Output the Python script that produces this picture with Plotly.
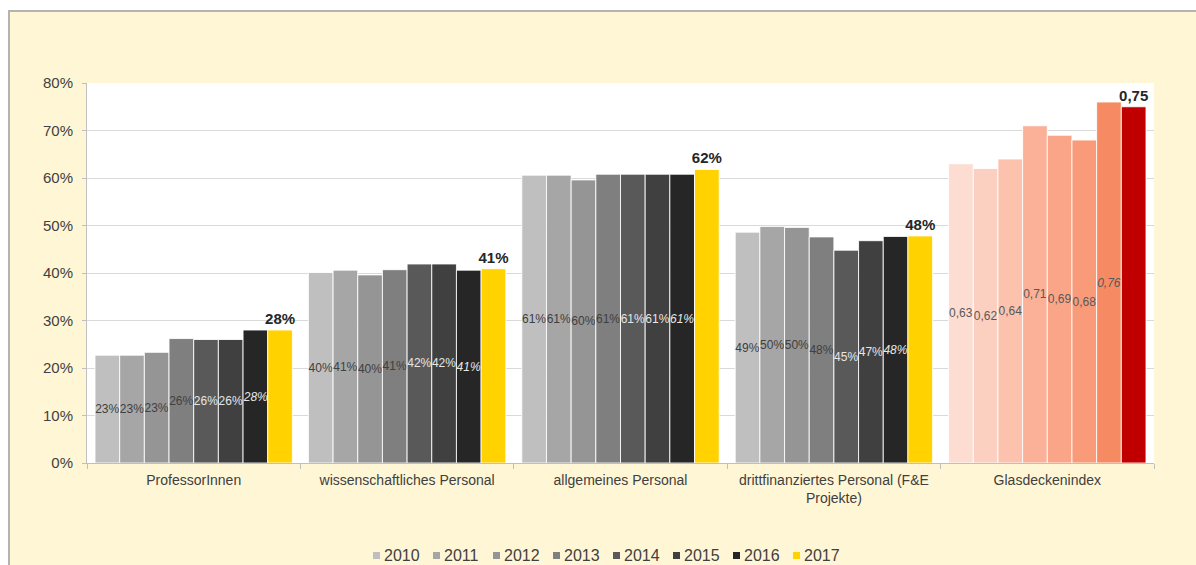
import plotly.graph_objects as go

# Kategorien der x-Achse
categories = [
    "ProfessorInnen",
    "wissenschaftliches Personal",
    "allgemeines Personal",
    "drittfinanziertes Personal (F&E<br>Projekte)",
    "Glasdeckenindex",
]
years = ["2010", "2011", "2012", "2013", "2014", "2015", "2016", "2017"]

# Frauenanteile je Jahr (Reihenfolge wie categories; letzter Wert = Glasdeckenindex)
v2010 = [0.227, 0.401, 0.606, 0.486, 0.63]
v2011 = [0.227, 0.406, 0.606, 0.498, 0.62]
v2012 = [0.233, 0.396, 0.596, 0.496, 0.64]
v2013 = [0.262, 0.407, 0.608, 0.476, 0.71]
v2014 = [0.260, 0.419, 0.608, 0.448, 0.69]
v2015 = [0.260, 0.419, 0.608, 0.468, 0.68]
v2016 = [0.280, 0.406, 0.608, 0.477, 0.76]
v2017 = [0.280, 0.409, 0.618, 0.478, 0.75]
series = [v2010, v2011, v2012, v2013, v2014, v2015, v2016, v2017]

# Farben: Grau-/Gelbtöne für Personalgruppen, Rottöne für den Index
grey_colors = ["#BFBFBF", "#A6A6A6", "#959595", "#7F7F7F",
               "#595959", "#404040", "#262626", "#FFD200"]
glass_colors = ["#FDDDD1", "#FCD0C1", "#FCC2AD", "#FBB198",
                "#FAA588", "#F99B79", "#F68B63", "#C00000"]
label_colors = ["#404040", "#404040", "#404040", "#404040",
                "#E6E6E6", "#E6E6E6", "#E6E6E6", "#262626"]

FONT = "Liberation Sans, Arial, sans-serif"

fig = go.Figure()
n_cat = len(categories)
for i, (year, vals) in enumerate(zip(years, series)):
    colors = [grey_colors[i]] * (n_cat - 1) + [glass_colors[i]]
    if i < len(years) - 1:
        fmt_pct, fmt_idx = "%{y:.0%}", "%{y:.2f}"
        if i == len(years) - 2:
            fmt_pct, fmt_idx = "<i>%{y:.0%}</i>", "<i>%{y:.2f}</i>"
        templates = [fmt_pct] * (n_cat - 1) + [fmt_idx]
        tcolors = [label_colors[i]] * (n_cat - 1) + ["#595959"]
        fig.add_trace(go.Bar(
            name=year, x=categories, y=vals,
            marker=dict(color=colors, line=dict(color="rgba(255,255,255,0.85)", width=1)),
            texttemplate=templates,
            textposition="inside", insidetextanchor="middle",
            textangle=0, constraintext="none",
            textfont=dict(family=FONT, size=12, color=tcolors),
            hoverinfo="skip",
        ))
    else:
        templates = ["<b>%{y:.0%}</b>"] * (n_cat - 1) + ["<b>%{y:.2f}</b>"]
        fig.add_trace(go.Bar(
            name=year, x=categories, y=vals,
            marker=dict(color=colors, line=dict(color="rgba(255,255,255,0.85)", width=1)),
            texttemplate=templates,
            textposition="outside", textangle=0, constraintext="none",
            cliponaxis=False,
            textfont=dict(family=FONT, size=15, color="#262626"),
            hoverinfo="skip",
        ))

# Seitenränder in Pixeln
L, R, T, B = 87, 42, 83, 102
W, H = 1196, 565
pw, ph = W - L - R, H - T - B


def px_x(p):
    return (p - L) / pw


def px_y(p):
    return (H - B - p) / ph


# Rahmen und weißer Rand außerhalb der Diagrammfläche
shapes = [
    dict(type="rect", xref="paper", yref="paper", layer="above",
         x0=px_x(-5), x1=px_x(W + 5), y0=px_y(11), y1=px_y(-5),
         fillcolor="white", line=dict(width=0)),
    dict(type="rect", xref="paper", yref="paper", layer="above",
         x0=px_x(-5), x1=px_x(9), y0=px_y(H + 5), y1=px_y(-5),
         fillcolor="white", line=dict(width=0)),
    dict(type="rect", xref="paper", yref="paper", layer="above",
         x0=px_x(9), x1=px_x(W + 10), y0=px_y(H + 10), y1=px_y(11),
         fillcolor="rgba(0,0,0,0)", line=dict(color="#B3B3B3", width=2)),
]

# Legende: kleine Farbquadrate mit Jahreszahl, zentriert unter dem Diagramm
annotations = []
legend_start, legend_step, legend_y = 373, 60, 555.5
for i, year in enumerate(years):
    x0 = legend_start + i * legend_step
    shapes.append(dict(
        type="rect", xref="paper", yref="paper", layer="above",
        x0=px_x(x0), x1=px_x(x0 + 7),
        y0=px_y(legend_y + 3.5), y1=px_y(legend_y - 3.5),
        fillcolor=grey_colors[i], line=dict(width=0),
    ))
    annotations.append(dict(
        xref="paper", yref="paper", x=px_x(x0 + 9), y=px_y(legend_y),
        xanchor="left", yanchor="middle", showarrow=False,
        text=year, font=dict(family=FONT, size=16, color="#404040"),
    ))

fig.update_layout(
    width=W, height=H,
    margin=dict(l=L, r=R, t=T, b=B, pad=0, autoexpand=False),
    paper_bgcolor="#FFF6D5",
    plot_bgcolor="white",
    separators=",.",
    barmode="group",
    bargap=0.075,
    bargroupgap=0,
    font=dict(family=FONT, size=14, color="#404040"),
    shapes=shapes,
    annotations=annotations,
    showlegend=False,
    xaxis=dict(
        showline=True, linecolor="#BFBFBF", linewidth=1,
        ticks="outside", tickson="boundaries", ticklen=5, tickcolor="#BFBFBF",
        tickfont=dict(family=FONT, size=14, color="#404040"),
        ticklabelstandoff=4,
        showgrid=False, fixedrange=True,
    ),
    yaxis=dict(
        range=[0, 0.8], dtick=0.1, tickformat=".0%",
        showline=True, linecolor="#BFBFBF", linewidth=1,
        ticks="outside", ticklen=4, tickcolor="#BFBFBF",
        gridcolor="#D9D9D9", gridwidth=1,
        tickfont=dict(family=FONT, size=15, color="#404040"),
        ticklabelstandoff=6,
        zeroline=False, fixedrange=True,
    ),
)

fig.write_html("out.html")
